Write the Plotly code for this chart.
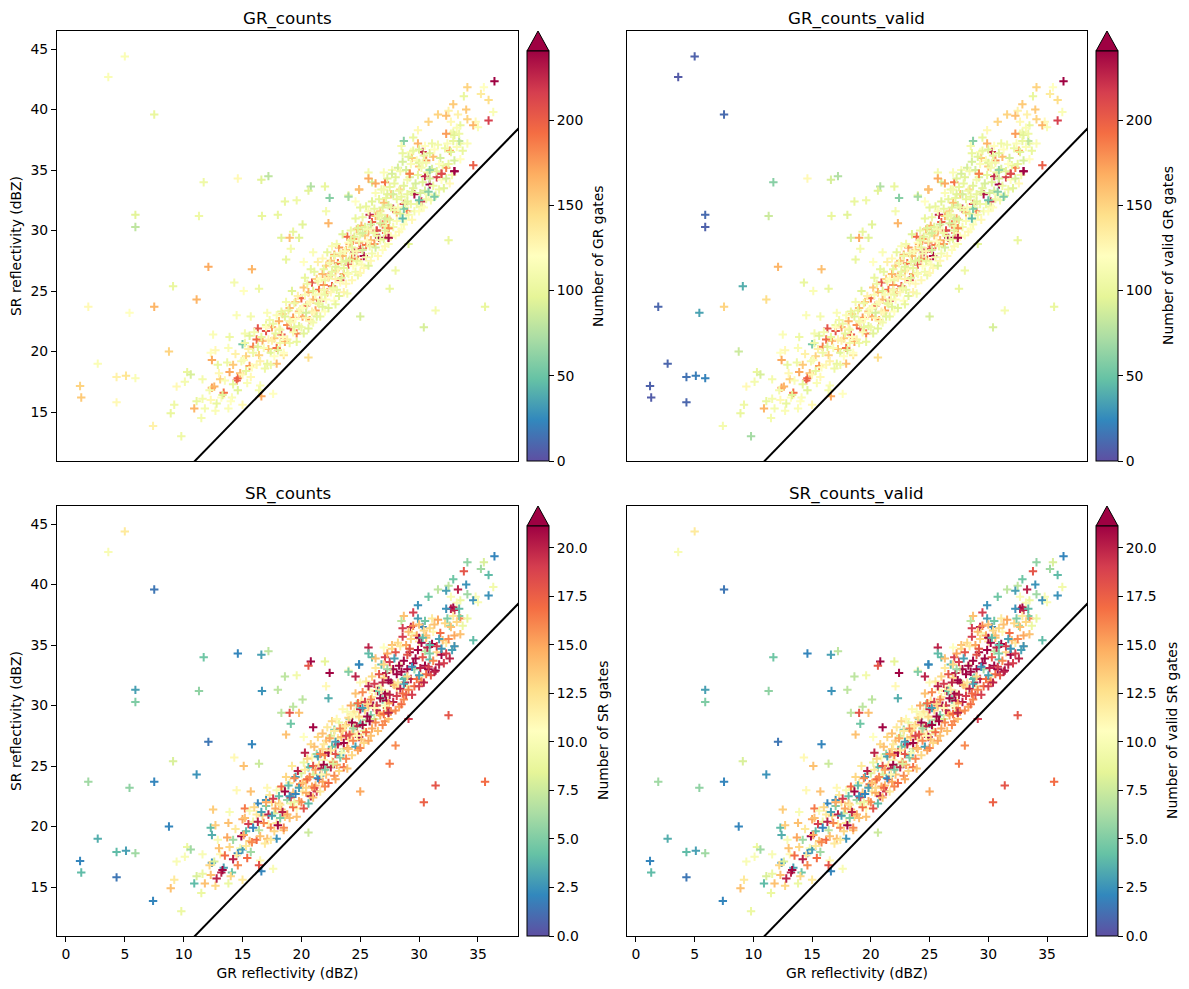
import plotly.graph_objects as go

# Isolated gates whose valid counts differ from the totals
iso_x = [5.0,3.6,7.5,5.9,5.9,1.2,1.3,1.9,2.7,4.3,4.3,5.1,5.9,5.4,7.4,7.5,8.75,8.9,9.1,9.8,11.1,11.3,11.7,12.1,14.6,16.6,17.2,18.6,18.0,16.65,18.3,19.0,14.3,15.1,16.4,15.8]
iso_y = [44.4,42.7,39.6,31.3,30.3,17.15,16.2,23.7,19.0,17.9,15.8,18.0,17.8,23.2,13.85,23.7,20.0,14.9,25.4,13.0,24.3,31.2,34.0,27.0,34.3,34.2,34.5,32.4,31.3,31.2,29.4,29.4,25.7,25.0,25.2,26.8]
iso_gr = [115,115,100,95,80,150,155,125,115,130,125,140,115,120,130,165,150,100,100,105,165,105,105,170,125,95,80,100,100,100,95,160,110,120,105,165]
iso_gr_valid = [8,5,12,12,8,8,6,10,10,15,10,20,22,35,110,150,85,100,40,70,145,85,60,165,125,90,75,100,95,100,90,170,100,115,100,160]
iso_sr = [12,10,1.5,3,5,2,4,6,3.5,4,1.5,3,6,5.5,2,2,2,14,8,9,2.5,5.5,4.5,1.5,2,3,7,7,7,2.5,7,18,11,14,7.5,2]
iso_sr_valid = [12,10,1.5,3,5,2,4,6,3.5,4,1.5,3,6,5.5,2,2,2,14,8,9,2.5,5.5,4.5,1.5,2,3,7,7,7,2.5,7,18,11,14,7.5,2]

# Fringe of the cloud: far from the main band, all gates valid
fringe_x = [36.4,34.1,35.5,35.25,33.8,35.9,32.9,34.0,32.5,33.3,31.6,32.3,36.3,34.1,30.8,35.9,34.8,34.6,35.0,32.7,33.5,33.2,29.9,32.7,32.9,33.0,32.3,29.5,28.7,28.5,29.9,30.5,31.1,30.3,33.5,33.4,34.1,29.3,28.6,34.6,
            25.0,20.6,28.0,27.5,32.5,29.1,31.4,30.4,35.6,9.2,10.9,11.1,11.6,12.3,11.8,12.7,11.5,13.8,15.0,9.4,10.1,10.3,10.6,11.6,12.4,13.2,14.1,16.5,16.4,16.6,17.6,17.9,18.5,12.5,13.9,15.2,13.8,12.3,12.4,12.7,14.5,15.7,17.1,16.3,17.0,14.6,15.0,
            20.8,20.6,22.0,22.4,24.0,19.6,22.1,24.6,24.9,25.7,26.0,26.3,27.1,27.0,27.7,20.1,22.3,19.3,19.8,19.1,18.7,20.2,21.0]
fringe_y = [42.35,41.85,41.85,41.3,41.1,40.8,40.45,40.0,39.9,39.6,39.6,39.5,39.8,39.2,39.0,39.1,39.0,38.7,38.55,39.0,38.7,38.5,38.3,38.0,38.1,37.9,38.0,37.7,37.4,37.0,37.2,37.0,37.2,36.5,37.2,37.4,37.2,36.5,36.4,35.4,
            22.9,19.5,26.7,25.2,29.2,28.9,23.4,22.0,23.7,15.6,15.3,15.9,16.1,16.0,15.3,15.1,14.5,15.3,15.6,17.1,17.5,18.3,18.1,17.7,17.0,16.2,16.2,17.2,16.8,16.3,16.5,19.0,19.7,21.4,21.2,21.5,20.3,19.9,19.3,20.1,23.0,22.9,23.2,21.9,22.2,17.8,20.6,
            33.65,33.3,33.65,32.7,32.9,32.5,31.6,32.4,33.4,34.8,34.0,33.9,34.0,34.8,35.0,30.5,30.6,29.9,29.4,28.5,27.6,27.4,28.2]
fringe_gr = [240,150,120,135,100,145,155,155,130,130,150,160,115,150,150,215,125,165,115,125,100,115,125,110,105,95,175,100,60,110,165,120,105,225,100,80,115,120,100,200,
             90,145,105,100,100,95,110,90,100,105,165,100,110,125,110,115,110,115,125,125,110,100,90,110,175,120,115,115,110,170,120,160,140,115,105,110,115,120,170,125,115,110,115,205,100,195,55,
             75,95,100,60,100,105,110,120,165,110,90,170,190,115,115,95,165,100,95,110,100,120,115]
fringe_sr = [2,5.5,8,6,18,4,4.5,2.5,7,20,7,3,9.5,6,4.5,2.5,10,2.5,10,10,9,10,2.5,20,21,20,2.5,19,14,7,3,4.5,12,2,16,5,9,20,19,4,
             15,7.5,16,16.5,18,19,18,17.5,17,12,4,8,9,14,14,13,9,9,12,10,10,9,6,10,2.5,20,4.5,11,18,2,10,2.5,14,13.5,10,16.5,14,4,3.5,13.5,11,14,11,2,2.5,2,15,
             21,18,8.5,21,11,9.5,11,20,3,20,4,14,19,10.5,14,7,3.5,7,14,4.5,14,10.5,21]

# Main band: high GR counts first, then the bulk, then a last handful on top
band_x = [12.6,13.1,13.4,13.9,14.2,14.5,14.8,15.3,15.6,15.9,16.2,16.4,16.7,17.0,17.2,
    17.5,17.7,17.9,18.1,18.3,18.4,18.6,18.8,19.0,19.1,19.3,19.5,19.6,19.8,20.0,
    20.1,20.2,20.4,20.6,20.7,20.9,21.0,21.2,21.3,21.5,21.6,21.8,21.9,22.1,22.2,
    22.3,22.5,22.6,22.8,22.9,23.1,23.2,23.3,23.5,23.6,23.8,23.9,24.0,24.1,24.3,
    24.4,24.5,24.7,24.8,24.9,25.0,25.1,25.3,25.4,25.5,25.7,25.8,25.9,26.0,26.2,
    26.3,26.4,26.6,26.7,26.9,27.0,27.2,27.3,27.4,27.4,27.6,27.8,28.1,28.4,28.7,
    29.0,29.2,29.6,30.0,30.2,30.6,30.9,31.2,31.5,31.9,32.3,32.6,33.0,29.4,30.5,
    12.2,12.8,13.0,13.3,13.5,13.7,14.0,14.2,14.4,14.6,14.9,15.0,15.2,15.4,12.9,
    15.1,15.3,15.5,15.6,15.8,15.9,16.0,16.2,16.3,16.5,16.6,16.8,16.9,17.0,15.7,
    17.1,17.2,17.3,17.4,17.5,17.6,17.7,17.8,17.9,18.0,18.1,18.2,18.3,18.4,17.4,
    18.5,18.6,18.7,18.8,18.9,19.0,19.1,19.2,19.3,19.4,19.5,19.6,19.7,19.8,19.9,
    20.0,20.1,20.2,20.3,20.3,20.4,20.5,20.5,20.6,20.7,20.8,20.8,20.9,21.0,21.0,
    21.1,21.1,21.2,21.3,21.4,21.4,21.5,21.6,21.6,21.7,21.8,21.8,21.9,21.9,22.0,
    22.0,22.1,22.2,22.3,22.3,22.4,22.5,22.6,22.6,22.7,22.8,22.8,22.9,22.9,23.0,
    23.0,23.1,23.2,23.3,23.3,23.4,23.5,23.6,23.6,23.7,23.8,23.8,23.9,23.9,24.0,
    24.0,24.1,24.2,24.3,24.3,24.4,24.5,24.6,24.6,24.7,24.8,24.8,24.9,24.9,25.0,
    25.0,25.1,25.2,25.2,25.3,25.4,25.5,25.5,25.6,25.7,25.7,25.8,25.9,25.9,25.0,
    26.0,26.0,26.1,26.2,26.3,26.3,26.4,26.5,26.5,26.6,26.7,26.7,26.8,26.9,26.9,
    27.0,27.0,27.1,27.1,27.2,27.2,27.3,27.3,27.4,27.4,27.5,27.5,27.6,27.6,27.7,
    27.8,27.8,27.9,28.0,28.0,28.1,28.1,28.2,28.3,28.3,28.4,28.4,28.5,28.5,28.6,
    28.7,28.7,28.8,28.9,28.9,29.0,29.1,29.1,29.2,29.3,29.3,29.4,29.5,29.5,29.6,
    29.7,29.8,29.8,29.9,30.0,30.0,30.1,30.2,30.2,30.3,30.4,30.4,30.5,30.6,30.6,
    30.7,30.8,30.9,31.0,31.1,31.2,31.3,31.4,31.5,31.6,31.7,31.8,31.9,32.0,32.1,
    32.2,32.3,32.4,32.5,32.6,32.7,32.8,32.9,33.0,33.2,33.4,33.5,33.7,30.0,29.0,
    30.8,31.3,30.0,28.6,28.7,30.9,24.0,33.0,31.9,29.2,27.4,27.4,26.4,25.7,24.9,
    27.9,30.3,29.4,31.7,26.6,25.2,24.4,22.9,22.0,21.4,19.8,19.0,27.3,28.8,30.9,
    26.2,27.1,28.2,24.7,25.6,23.4,22.5,21.7,19.4,18.2,29.0,22.7,24.2,20.4,26.8]
band_y = [17.1,17.7,16.6,18.3,18.9,17.6,18.2,19.6,18.8,20.4,21.0,19.7,20.9,21.7,20.2,
    22.0,21.1,20.3,22.5,21.4,23.1,20.8,22.2,23.6,21.9,22.8,24.1,21.5,23.3,24.4,
    22.9,25.3,23.8,24.9,22.6,25.7,24.3,23.4,26.0,25.1,24.2,26.4,25.5,27.1,24.9,
    26.2,27.5,25.4,28.0,26.7,27.3,28.6,25.9,27.9,26.4,28.4,29.5,27.2,28.9,27.7,
    29.3,28.2,30.1,27.6,29.0,28.5,30.4,27.9,29.6,28.8,30.0,31.3,29.2,30.7,28.9,
    31.2,30.0,29.4,31.6,30.5,32.3,29.8,31.0,30.2,29.4,33.0,31.8,31.5,33.4,32.2,
    31.6,34.7,33.0,35.3,32.4,35.8,33.8,36.1,34.4,34.7,35.2,36.6,34.9,36.0,34.5,
    16.8,15.7,18.2,16.4,17.6,19.1,15.9,17.3,19.8,16.8,19.2,18.1,20.7,17.4,18.9,
    19.3,18.4,20.2,21.3,18.7,19.9,21.6,18.9,20.4,19.2,21.2,20.3,18.6,22.0,17.9,
    19.0,21.0,22.6,19.9,20.9,22.3,19.6,21.5,23.0,20.1,21.9,20.7,23.3,21.2,18.9,
    19.9,22.9,24.1,21.0,23.4,20.7,22.4,25.0,21.6,24.0,22.7,20.8,24.6,22.1,23.5,
    22.0,23.6,21.5,24.7,26.1,22.8,25.6,23.9,21.9,24.1,22.5,26.8,23.3,25.0,22.4,
    23.2,26.6,24.7,22.9,25.8,27.4,23.9,26.0,22.9,24.8,23.7,27.7,25.1,26.8,23.3,
    25.9,24.3,28.2,26.1,23.6,27.3,24.9,26.6,28.7,25.3,24.2,27.9,26.0,23.9,28.9,
    25.1,26.8,24.6,28.1,25.7,27.4,29.7,24.9,26.9,28.3,25.6,27.5,24.8,26.5,29.0,
    26.4,27.6,30.0,25.9,28.6,27.1,29.5,26.6,31.0,28.3,26.3,30.2,27.4,29.1,26.5,
    29.7,27.2,28.4,31.1,26.9,30.3,27.8,32.0,29.1,27.1,31.6,28.7,30.5,27.5,31.9,
    28.1,32.4,30.0,31.8,28.6,33.1,29.6,31.2,27.9,32.6,29.2,30.6,33.4,28.4,31.9,
    29.3,33.4,31.0,28.7,32.7,30.4,34.3,29.8,32.1,28.9,33.6,30.9,29.5,31.9,34.7,
    30.3,33.0,31.7,29.6,34.4,32.6,30.8,35.2,29.9,33.3,31.4,34.9,30.1,32.8,35.7,
    30.5,33.7,31.9,35.0,30.9,33.0,36.1,31.3,34.4,32.2,35.5,30.9,33.5,36.6,31.6,
    33.9,32.2,35.8,34.6,31.6,36.7,33.1,35.2,32.0,34.0,36.2,31.9,33.3,35.6,32.6,
    34.8,33.0,36.4,32.5,35.1,33.7,36.7,32.9,34.9,37.1,33.4,36.0,34.2,35.4,33.5,
    36.8,34.3,37.2,35.5,33.9,36.5,34.6,37.4,35.8,36.9,38.0,35.9,36.6,35.6,34.2,
    33.2,32.8,32.5,31.0,31.8,35.0,32.8,34.9,34.7,34.7,30.2,29.4,30.0,34.3,33.4,
    33.9,35.6,33.2,35.5,31.2,29.8,28.1,27.0,24.7,24.0,23.2,22.5,33.0,32.3,34.3,
    29.8,30.0,31.9,27.5,30.1,26.1,26.3,24.3,22.0,21.8,32.4,25.2,29.2,23.2,31.3]
band_gr = [165,150,190,170,155,200,160,150,175,185,195,150,170,205,160,
    175,155,190,165,200,150,170,180,160,205,175,155,185,165,195,
    170,155,195,165,180,205,160,175,150,190,210,165,180,155,175,
    185,160,200,170,155,190,175,210,165,180,155,195,205,170,185,
    175,220,160,195,180,205,165,235,155,190,170,225,160,200,175,
    165,205,240,150,185,160,195,170,175,240,155,220,165,150,210,
    190,165,235,155,220,180,240,160,215,210,185,170,240,155,225,
    110,100,125,95,115,105,120,100,130,95,110,125,105,115,100,
    115,100,130,95,120,105,110,125,95,130,100,115,105,120,125,
    100,125,110,95,130,105,120,100,115,95,125,110,100,120,105,
    120,95,110,130,100,105,125,95,115,105,120,100,130,95,110,
    105,120,95,115,100,130,105,110,95,125,115,100,130,95,110,
    125,100,115,95,110,130,105,120,100,115,95,125,110,100,120,
    105,120,100,130,95,110,125,100,115,95,120,105,130,100,110,
    100,125,95,110,120,105,95,130,100,115,125,95,110,105,120,
    115,95,105,125,100,120,95,110,100,130,105,95,120,110,125,
    100,115,90,105,125,95,110,100,120,95,115,105,90,125,100,
    110,95,120,100,90,115,105,95,125,100,110,90,105,120,95,
    95,110,90,125,100,105,95,120,90,115,100,95,125,105,90,
    110,90,105,120,95,100,115,90,125,105,95,110,120,100,90,
    115,95,105,90,120,100,95,110,90,105,115,125,95,100,110,
    90,105,115,100,120,95,90,110,105,95,100,120,90,110,105,
    100,115,95,110,90,105,120,100,95,110,105,90,120,100,95,
    105,90,115,100,125,95,110,100,90,115,105,120,100,95,110,
    60,55,50,45,55,65,70,240,210,185,180,235,210,170,160,
    100,110,95,120,105,90,110,95,105,100,115,110,95,105,90,
    105,95,115,100,110,95,105,115,100,105,95,110,100,90,105]
band_sr = [8,11,3,13,6,12,10,4,14,9,12,7,13,5,11,
    13,8,12,4,14,10,13,6,12,9,14,3,11,13,8,
    12,9,14,4,13,11,8,14,6,12,3,13,10,14,7,
    13,8,11,5,14,12,9,3,13,7,14,10,12,6,13,
    10,13,6,14,11,4,12,9,13,7,14,11,5,12,8,
    12,7,14,10,5,13,9,11,14,6,12,8,13,10,4,
    9,13,6,12,10,14,4,11,13,8,12,6,13,10,7,
    13,20,14,21,17,15,13,20,12,16,21,3,14,17,10,
    15,12,19,10,16,2,13,17,20,14,3,16,12,15,6,
    14,20,12,16,3,19,13,15,10,21,14,5,17,20,12,
    16,21,13,15,4,14,19,12,17,16,2,14,20,15,17,
    16,14,18,12,20,15,13,17,4,16,20,13,15,18,14,
    17,14,15,19,3,13,18,16,12,20,15,14,21,12,16,
    16,14,12,21,17,15,20,4,13,17,16,12,18,15,11,
    15,20,13,16,5,14,11,17,21,12,16,19,14,15,13,
    14,18,15,13,21,16,12,3,14,20,15,17,21,13,16,
    20,14,21,16,13,19,17,12,21,15,20,21,16,14,11,
    15,13,21,19,16,12,20,21,14,18,15,21,4,16,20,
    17,13,21,16,20,21,15,18,21,14,19,20,16,21,13,
    20,21,14,16,18,21,19,13,15,21,20,12,17,21,19,
    16,21,20,15,18,21,14,16,21,20,13,19,21,16,17,
    21,17,15,21,19,14,20,21,16,18,13,20,21,14,17,
    20,21,13,18,21,16,14,21,19,15,20,17,21,14,19,
    13,19,5,16,20,14,3,12,15,13,4,14,9,21,18,
    19,20,3,17,3,4,5,2.5,2.5,18,15,20,19,4,2,
    3,4,2.5,3,4.5,3,6,3,5,2,3,2.5,6,4,5,
    11,10,12,11,13,10,12,11,9,12,13,8,11,13,12]

x_values = iso_x + fringe_x + band_x
y_values = iso_y + fringe_y + band_y
gr_counts = iso_gr + fringe_gr + band_gr
gr_counts_valid = iso_gr_valid + fringe_gr + band_gr
sr_counts = iso_sr + fringe_sr + band_sr
sr_counts_valid = iso_sr_valid + fringe_sr + band_sr

panel_titles = ["GR_counts", "GR_counts_valid", "SR_counts", "SR_counts_valid"]
bar_titles = ["Number of GR gates", "Number of valid GR gates", "Number of SR gates", "Number of valid SR gates"]
panel_values = [gr_counts, gr_counts_valid, sr_counts, sr_counts_valid]
gr_scale_max = 240.5
sr_scale_max = 21.13
x_ticks = [0, 5, 10, 15, 20, 25, 30, 35]
y_ticks = [15, 20, 25, 30, 35, 40, 45]
reference_line = [-5, 50]

W, H = 1189, 989
TICK = 13.9
FONT = "DejaVu Sans"
SPECTRAL_R = ["#5e4fa2", "#3288bd", "#66c2a5", "#abdda4", "#e6f598", "#ffffbf",
              "#fee08b", "#fdae61", "#f46d43", "#d53e4f", "#9e0142"]
colorscale = [[i / 10, c] for i, c in enumerate(SPECTRAL_R)]

# Pixel boxes of the four axes: left, right, top, bottom; then the colour bar label's x centre
boxes = [(57, 518, 31, 461, 598), (627, 1087, 31, 461, 1168), (57, 518, 506, 936, 603), (627, 1087, 506, 936, 1172)]

fig = go.Figure()
layout = dict(width=W, height=H, margin=dict(l=0, r=0, t=0, b=0), paper_bgcolor="white",
              plot_bgcolor="white", showlegend=False, font=dict(family=FONT, size=TICK, color="black"))
annotations, shapes = [], []

for i, (l, r, t, b, label_x) in enumerate(boxes):
    suffix = "" if i == 0 else str(i + 1)
    xname, yname = "x" + suffix, "y" + suffix
    is_gr = i < 2
    cmax = gr_scale_max if is_gr else sr_scale_max
    cb_left = r + 9
    cb_top = t + 20
    fig.add_trace(go.Scatter(
        x=x_values, y=y_values, mode="markers", xaxis=xname, yaxis=yname,
        marker=dict(symbol="cross-thin-open", size=6, color=panel_values[i], cmin=0, cmax=cmax,
                    colorscale=colorscale, line=dict(width=2),
                    colorbar=dict(x=cb_left / W, xanchor="left", xpad=0, thickness=22,
                                  y=1 - b / H, yanchor="bottom", ypad=0,
                                  len=b - cb_top, lenmode="pixels", outlinecolor="black", outlinewidth=1,
                                  tick0=0, dtick=50 if is_gr else 2.5, tickformat="d" if is_gr else ".1f",
                                  ticks="outside", ticklen=5, tickwidth=1, tickcolor="black",
                                  tickfont=dict(family=FONT, size=TICK, color="black")))))
    fig.add_trace(go.Scatter(x=reference_line, y=reference_line, mode="lines", xaxis=xname, yaxis=yname,
                             line=dict(color="black", width=2), hoverinfo="skip"))
    bottom_row, left_col = i >= 2, i % 2 == 0
    layout["xaxis" + suffix] = dict(
        domain=[l / W, r / W], range=[-0.76, 38.4], anchor=yname, showgrid=False, zeroline=False,
        showline=True, mirror=True, linecolor="black", linewidth=1,
        tickmode="array", tickvals=x_ticks if bottom_row else [], ticks="outside" if bottom_row else "",
        ticklen=5, tickwidth=1, tickcolor="black", showticklabels=bottom_row,
        tickfont=dict(family=FONT, size=TICK, color="black"),
        title=dict(text="GR reflectivity (dBZ)" if bottom_row else "", standoff=7,
                   font=dict(family=FONT, size=TICK, color="black")))
    layout["yaxis" + suffix] = dict(
        domain=[1 - b / H, 1 - t / H], range=[10.95, 46.5], anchor=xname, showgrid=False, zeroline=False,
        showline=True, mirror=True, linecolor="black", linewidth=1,
        tickmode="array", tickvals=y_ticks if left_col else [], ticks="outside" if left_col else "",
        ticklen=5, tickwidth=1, tickcolor="black", showticklabels=left_col,
        tickfont=dict(family=FONT, size=TICK, color="black"),
        title=dict(text="SR reflectivity (dBZ)" if left_col else "", standoff=5,
                   font=dict(family=FONT, size=TICK, color="black")))
    annotations.append(dict(text=panel_titles[i], xref="paper", yref="paper", x=(l + r) / 2 / W,
                            y=1 - t / H, xanchor="center", yanchor="bottom", showarrow=False,
                            font=dict(family=FONT, size=16.7, color="black")))
    annotations.append(dict(text=bar_titles[i], xref="paper", yref="paper", x=label_x / W,
                            y=1 - (cb_top + b) / 2 / H, xanchor="center", yanchor="middle", showarrow=False,
                            textangle=-90, font=dict(family=FONT, size=TICK, color="black")))
    # Triangular over-range cap above the colour bar
    x0, x1 = cb_left / W, (cb_left + 22) / W
    yb, yt = 1 - cb_top / H, 1 - t / H
    shapes.append(dict(type="path", xref="paper", yref="paper",
                       path=f"M {x0},{yb} L {(x0 + x1) / 2},{yt} L {x1},{yb} Z",
                       fillcolor="#9e0142", line=dict(color="black", width=1)))

layout["annotations"] = annotations
layout["shapes"] = shapes
fig.update_layout(**layout)
fig.write_html("out.html")
